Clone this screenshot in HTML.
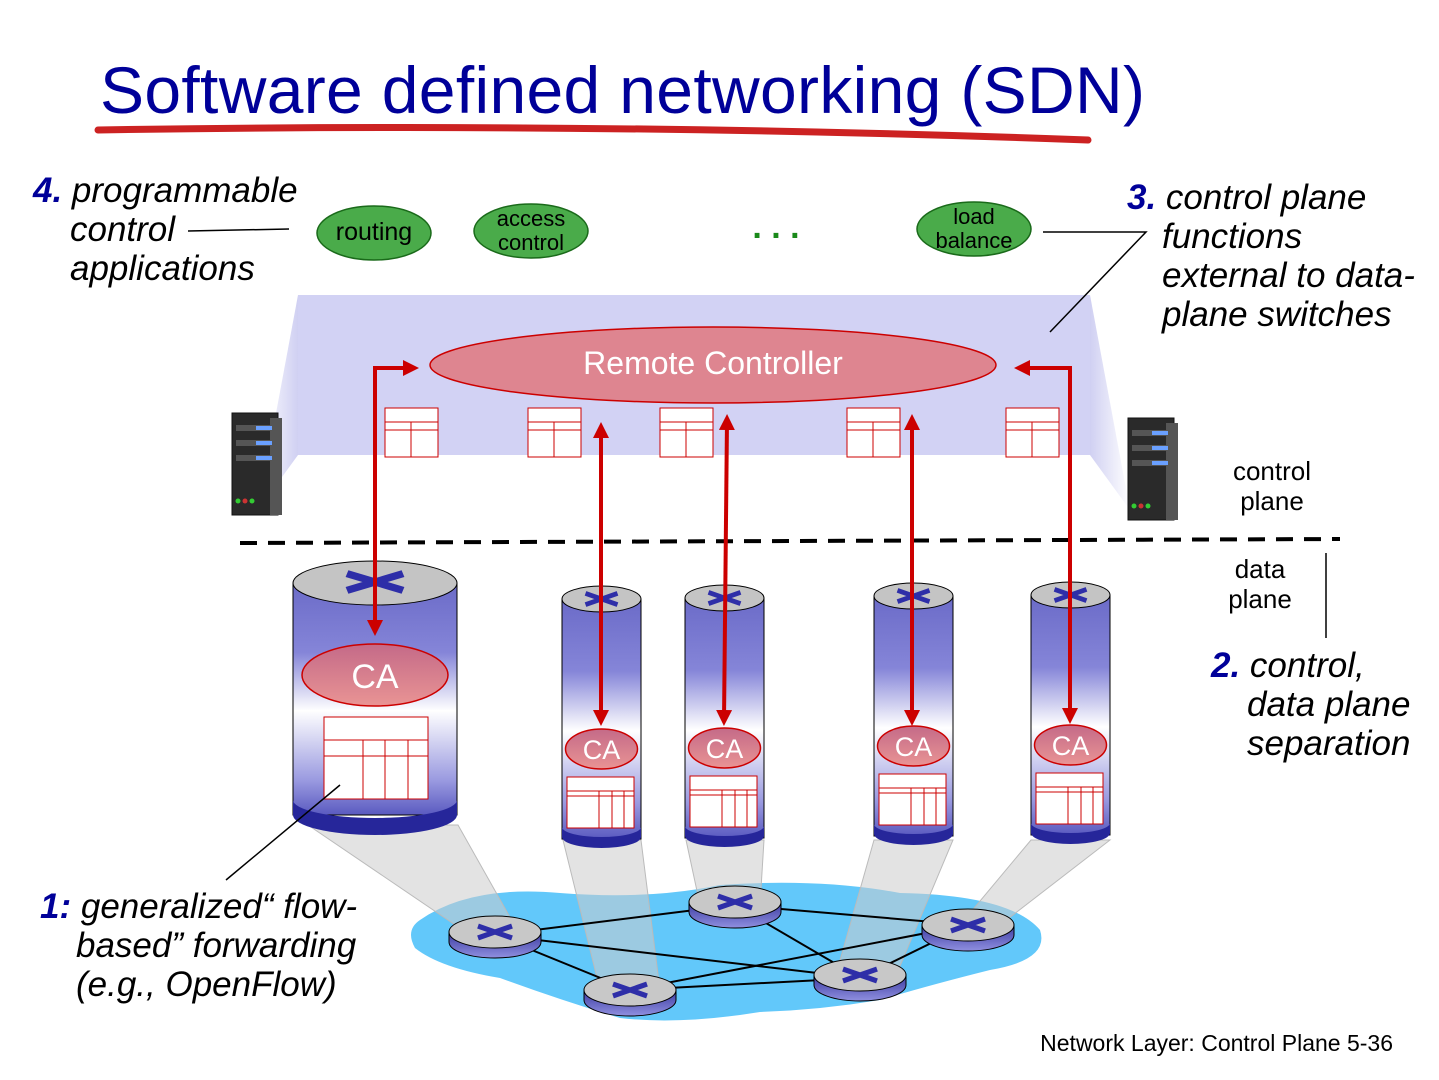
<!DOCTYPE html>
<html><head><meta charset="utf-8"><style>
html,body{margin:0;padding:0;background:#fff}
svg{display:block}
text{font-family:"Liberation Sans",sans-serif}
</style></head><body>
<svg width="1439" height="1080" viewBox="0 0 1439 1080" xmlns="http://www.w3.org/2000/svg">
<defs>
<linearGradient id="cyl" x1="0" y1="0" x2="0" y2="1">
<stop offset="0" stop-color="#6b6bc8"/><stop offset="0.3" stop-color="#8585d8"/><stop offset="0.55" stop-color="#ffffff"/><stop offset="0.85" stop-color="#9a9ae0"/><stop offset="1" stop-color="#5a5ac0"/>
</linearGradient>
<linearGradient id="ca" x1="0" y1="0" x2="0" y2="1"><stop offset="0" stop-color="#c46a88"/><stop offset="1" stop-color="#e99494"/></linearGradient>
<linearGradient id="rb" x1="0" y1="0" x2="0" y2="1"><stop offset="0" stop-color="#3a3aa0"/><stop offset="1" stop-color="#9090e0"/></linearGradient>
<linearGradient id="fadeL" x1="1" y1="0" x2="0" y2="0"><stop offset="0" stop-color="#d0d0f2"/><stop offset="1" stop-color="#d0d0f2" stop-opacity="0"/></linearGradient>
<linearGradient id="fadeR" x1="0" y1="0" x2="1" y2="0"><stop offset="0" stop-color="#d0d0f2"/><stop offset="1" stop-color="#d0d0f2" stop-opacity="0"/></linearGradient>
<marker id="ah" markerWidth="4" markerHeight="4" refX="2.5" refY="2" orient="auto-start-reverse" markerUnits="strokeWidth"><path d="M0,0 L4,2 L0,4 z" fill="#cc0000"/></marker>
<g id="tbl"><rect x="0" y="0" width="53" height="49" fill="#fff" stroke="#cc0000" stroke-width="1"/><line x1="0" y1="14" x2="53" y2="14" stroke="#cc0000"/><line x1="0" y1="22" x2="53" y2="22" stroke="#cc0000"/><line x1="26" y1="14" x2="26" y2="49" stroke="#cc0000"/></g>
<g id="x"><path d="M-20,-7 L20,7 M-20,7 L20,-7" stroke="#2e2ea8" stroke-width="6"/></g>
<g id="ss">
<rect x="0" y="0" width="79" height="240" fill="url(#cyl)" stroke="#000"/>
<path d="M0,228 v10 a39.5,11 0 0 0 79,0 v-10 a39.5,10 0 0 1 -79,0 z" fill="#26269a"/>
<ellipse cx="39.5" cy="0" rx="39.5" ry="13" fill="#c4c4c4" stroke="#000"/>
<use href="#x" transform="translate(39.5,0) scale(0.8,0.8)"/>
<ellipse cx="39.5" cy="150" rx="36" ry="20" fill="url(#ca)" stroke="#cc0000" stroke-width="1.5"/>
<text x="39.5" y="160" font-size="27" fill="#fff" text-anchor="middle">CA</text>
<g stroke="#cc0000" fill="none"><rect x="5" y="178" width="67" height="51" fill="#fff"/><line x1="5" y1="192" x2="72" y2="192"/><line x1="5" y1="197" x2="72" y2="197"/><line x1="37" y1="192" x2="37" y2="229"/><line x1="50" y1="192" x2="50" y2="229"/><line x1="62" y1="192" x2="62" y2="229"/></g>
</g>
<g id="srv">
<rect x="232" y="413" width="46" height="102" fill="#2a2a2a" stroke="#111"/>
<rect x="270" y="418" width="12" height="97" fill="#555"/>
<rect x="236" y="425" width="38" height="6" fill="#555"/><rect x="236" y="440" width="38" height="6" fill="#555"/><rect x="236" y="455" width="38" height="6" fill="#555"/>
<rect x="256" y="426" width="16" height="4" fill="#6aa0ff"/><rect x="256" y="441" width="16" height="4" fill="#6aa0ff"/><rect x="256" y="456" width="16" height="4" fill="#6aa0ff"/>
<circle cx="238" cy="501" r="2.5" fill="#3c3"/><circle cx="245" cy="501" r="2.5" fill="#c33"/><circle cx="252" cy="501" r="2.5" fill="#3c3"/>
</g>
<g id="rt"><path d="M-46,0 v10 a46,16 0 0 0 92,0 v-10 z" fill="url(#rb)" stroke="#000"/><ellipse rx="46" ry="16" fill="#c8c8c8" stroke="#000"/><use href="#x" transform="scale(0.85)"/></g>
</defs>

<!-- title -->
<text x="100" y="113" font-size="66" fill="#000099" textLength="1045">Software defined networking (SDN)</text>
<path d="M98,130 Q600,122 1088,140" stroke="#cc2222" stroke-width="7" fill="none" stroke-linecap="round"/>

<!-- 4 -->
<text x="33" y="202" font-size="35" font-style="italic"><tspan fill="#000099" font-weight="bold">4.</tspan> programmable</text>
<text x="70" y="241" font-size="35" font-style="italic">control</text>
<text x="70" y="280" font-size="35" font-style="italic">applications</text>
<line x1="188" y1="231" x2="289" y2="229" stroke="#000" stroke-width="1.5"/>

<!-- apps -->
<g stroke="#1a6a1a" stroke-width="1.5" fill="#4aab4a">
<ellipse cx="374" cy="233" rx="57" ry="27"/>
<ellipse cx="531" cy="231" rx="57" ry="27"/>
<ellipse cx="974" cy="229" rx="57" ry="27"/>
</g>
<text x="374" y="240" font-size="25" text-anchor="middle">routing</text>
<text x="531" y="226" font-size="22" text-anchor="middle">access</text>
<text x="531" y="250" font-size="22" text-anchor="middle">control</text>
<text x="974" y="224" font-size="22" text-anchor="middle">load</text>
<text x="974" y="248" font-size="22" text-anchor="middle">balance</text>
<text x="776" y="238" font-size="34" fill="#1a8a1a" text-anchor="middle" font-weight="bold">. . .</text>

<!-- control plane region -->
<polygon points="298,295 258,510 298,455" fill="url(#fadeL)"/>
<polygon points="1090,295 1130,510 1090,455" fill="url(#fadeR)"/>
<rect x="298" y="295" width="792" height="160" fill="#d2d2f4"/>

<!-- 3 -->
<text x="1127" y="209" font-size="35" font-style="italic"><tspan fill="#000099" font-weight="bold">3.</tspan> control plane</text>
<text x="1162" y="248" font-size="35" font-style="italic">functions</text>
<text x="1162" y="287" font-size="35" font-style="italic">external to data-</text>
<text x="1162" y="326" font-size="35" font-style="italic">plane switches</text>
<polyline points="1043,232 1146,232 1050,332" fill="none" stroke="#000" stroke-width="1.5"/>

<ellipse cx="713" cy="365" rx="283" ry="38" fill="#de8590" stroke="#cc0000" stroke-width="1.5"/>
<text x="713" y="374" font-size="32" fill="#fff" text-anchor="middle">Remote Controller</text>
<use href="#tbl" x="385" y="408"/><use href="#tbl" x="528" y="408"/><use href="#tbl" x="660" y="408"/><use href="#tbl" x="847" y="408"/><use href="#tbl" x="1006" y="408"/>

<use href="#srv"/>
<use href="#srv" x="896" y="5"/>

<text x="1272" y="480" font-size="26" text-anchor="middle">control</text>
<text x="1272" y="510" font-size="26" text-anchor="middle">plane</text>
<line x1="240" y1="543" x2="1340" y2="539" stroke="#000" stroke-width="4" stroke-dasharray="17,11"/>
<text x="1260" y="578" font-size="26" text-anchor="middle">data</text>
<text x="1260" y="608" font-size="26" text-anchor="middle">plane</text>
<line x1="1326" y1="553" x2="1326" y2="638" stroke="#000" stroke-width="1.5"/>

<text x="1211" y="677" font-size="35" font-style="italic"><tspan fill="#000099" font-weight="bold">2.</tspan> control,</text>
<text x="1247" y="716" font-size="35" font-style="italic">data plane</text>
<text x="1247" y="755" font-size="35" font-style="italic">separation</text>

<!-- network blob -->
<path d="M420,920 Q470,885 560,893 Q650,900 720,885 Q820,878 900,893 Q1010,895 1040,930 Q1050,960 990,970 Q930,985 880,1000 Q820,1010 760,1012 Q680,1025 620,1018 Q560,1000 500,978 Q440,968 415,948 Q405,930 420,920 z" fill="#62c8fa"/>

<!-- beams -->
<g fill="#cccccc" fill-opacity="0.55" stroke="#bbb" stroke-width="1">
<polygon points="308,825 458,825 520,935 470,935"/>
<polygon points="563,840 641,840 660,990 600,990"/>
<polygon points="686,840 764,840 760,905 700,905"/>
<polygon points="874,840 953,840 895,978 835,978"/>
<polygon points="1031,840 1110,840 1000,925 960,925"/>
</g>

<!-- links -->
<g stroke="#000" stroke-width="2">
<line x1="495" y1="935" x2="735" y2="905"/><line x1="495" y1="935" x2="860" y2="978"/><line x1="495" y1="935" x2="630" y2="990"/>
<line x1="735" y1="905" x2="968" y2="925"/><line x1="735" y1="905" x2="860" y2="978"/>
<line x1="630" y1="990" x2="968" y2="925"/><line x1="630" y1="990" x2="860" y2="978"/><line x1="860" y1="978" x2="968" y2="925"/>
</g>

<use href="#rt" transform="translate(495,932)"/>
<use href="#rt" transform="translate(735,902)"/>
<use href="#rt" transform="translate(630,990)"/>
<use href="#rt" transform="translate(860,975)"/>
<use href="#rt" transform="translate(968,925)"/>

<!-- big switch -->
<rect x="293" y="583" width="164" height="232" fill="url(#cyl)" stroke="#000"/>
<path d="M293,800 v15 a82,20 0 0 0 164,0 v-15 a82,18 0 0 1 -164,0 z" fill="#26269a"/>
<ellipse cx="375" cy="583" rx="82" ry="22" fill="#c4c4c4" stroke="#000"/>
<use href="#x" transform="translate(375,582) scale(1.4,1.2)"/>
<ellipse cx="375" cy="675" rx="73" ry="31" fill="url(#ca)" stroke="#cc0000" stroke-width="1.5"/>
<text x="375" y="688" font-size="34" fill="#fff" text-anchor="middle">CA</text>
<g stroke="#cc0000" fill="none"><rect x="324" y="717" width="104" height="82" fill="#fff"/><line x1="324" y1="740" x2="428" y2="740"/><line x1="324" y1="756" x2="428" y2="756"/><line x1="363" y1="740" x2="363" y2="799"/><line x1="385" y1="740" x2="385" y2="799"/><line x1="408" y1="740" x2="408" y2="799"/></g>

<use href="#ss" x="562" y="599"/>
<use href="#ss" x="685" y="598"/>
<use href="#ss" x="874" y="596"/>
<use href="#ss" x="1031" y="595"/>

<!-- arrows -->
<g stroke="#cc0000" stroke-width="4" fill="none">
<polyline points="375,630 375,368 413,368" marker-start="url(#ah)" marker-end="url(#ah)"/>
<line x1="601" y1="428" x2="601" y2="720" marker-start="url(#ah)" marker-end="url(#ah)"/>
<line x1="727" y1="420" x2="724" y2="720" marker-start="url(#ah)" marker-end="url(#ah)"/>
<line x1="912" y1="420" x2="912" y2="720" marker-start="url(#ah)" marker-end="url(#ah)"/>
<polyline points="1070,718 1070,368 1020,368" marker-start="url(#ah)" marker-end="url(#ah)"/>
</g>

<!-- 1 -->
<line x1="226" y1="880" x2="340" y2="785" stroke="#000" stroke-width="1.5"/>
<text x="40" y="918" font-size="35" font-style="italic"><tspan fill="#000099" font-weight="bold">1:</tspan> generalized“ flow-</text>
<text x="76" y="957" font-size="35" font-style="italic">based” forwarding</text>
<text x="76" y="996" font-size="35" font-style="italic">(e.g., OpenFlow)</text>

<text x="1393" y="1051" font-size="23" text-anchor="end">Network Layer: Control Plane  5-36</text>
</svg>
</body></html>
